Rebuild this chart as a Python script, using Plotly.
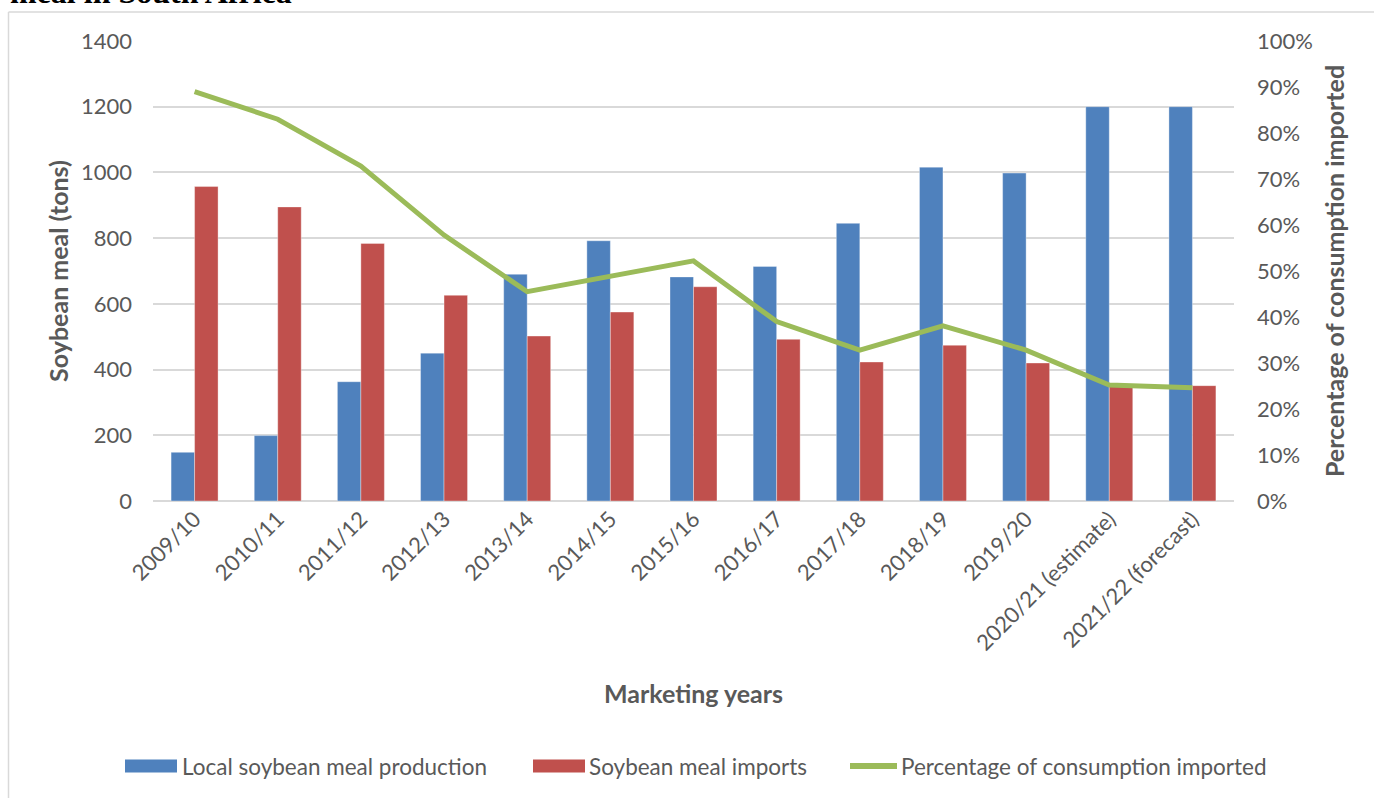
import plotly.graph_objects as go

# Marketing years and soybean meal volumes
marketing_years = [
    "2009/10", "2010/11", "2011/12", "2012/13", "2013/14", "2014/15",
    "2015/16", "2016/17", "2017/18", "2018/19", "2019/20",
    "2020/21 (estimate)", "2021/22 (forecast)",
]
local_production = [148, 199, 363, 450, 690, 792, 682, 714, 845, 1016, 998, 1200, 1200]
meal_imports = [957, 895, 784, 626, 502, 575, 652, 492, 423, 474, 420, 350, 351]
share_imported = [0.890, 0.830, 0.728, 0.578, 0.455, 0.488, 0.522, 0.390, 0.328,
                  0.381, 0.328, 0.252, 0.246]

left_ticks = [0, 200, 400, 600, 800, 1000, 1200, 1400]
right_ticks = [i / 10 for i in range(11)]

BLUE = "#4F81BD"
RED = "#C0504D"
GREEN = "#9BBB59"
GREY_TEXT = "#595959"
GRID = "#D9D9D9"
FONT = "Lato"

W, H = 1374, 798
PL, PR, PT, PB = 153, 1234, 41, 501  # plot area in pixels


def px_x(px):
    return (px - PL) / (PR - PL)


def px_y(py):
    return (PB - py) / (PB - PT)


fig = go.Figure()
fig.add_trace(go.Bar(
    x=marketing_years, y=local_production, name="Local soybean meal production",
    marker=dict(color=BLUE, line=dict(color="rgba(255,255,255,0.35)", width=1)),
    showlegend=False,
))
fig.add_trace(go.Bar(
    x=marketing_years, y=meal_imports, name="Soybean meal imports",
    marker=dict(color=RED, line=dict(color="rgba(255,255,255,0.35)", width=1)),
    showlegend=False,
))
fig.add_trace(go.Scatter(
    x=marketing_years, y=share_imported, name="Percentage of consumption imported",
    mode="lines", line=dict(color=GREEN, width=5), yaxis="y2",
    showlegend=False,
))

# legend row drawn underneath the chart
legend_items = [
    ("rect", BLUE, 125, 177, 180, "Local soybean meal production"),
    ("rect", RED, 533, 585, 587, "Soybean meal imports"),
    ("line", GREEN, 850, 897, 899, "Percentage of consumption imported"),
]
shapes = []
annotations = []
LEG_Y = 766
for kind, color, x0, x1, tx, label in legend_items:
    if kind == "rect":
        shapes.append(dict(type="rect", xref="paper", yref="paper",
                           x0=px_x(x0), x1=px_x(x1), y0=px_y(LEG_Y + 6.5), y1=px_y(LEG_Y - 6.5),
                           fillcolor=color, line=dict(width=0)))
    else:
        shapes.append(dict(type="line", xref="paper", yref="paper",
                           x0=px_x(x0), x1=px_x(x1), y0=px_y(LEG_Y), y1=px_y(LEG_Y),
                           line=dict(color=color, width=6)))
    annotations.append(dict(text=label, xref="paper", yref="paper",
                            x=px_x(tx), y=px_y(LEG_Y), xanchor="left", yanchor="middle",
                            showarrow=False, font=dict(family=FONT, size=22.5, color=GREY_TEXT)))

# outer frame edges (left and top)
shapes.append(dict(type="line", xref="paper", yref="paper",
                   x0=px_x(8.5), x1=px_x(8.5), y0=px_y(12), y1=px_y(820),
                   line=dict(color=GRID, width=1.5)))
shapes.append(dict(type="line", xref="paper", yref="paper",
                   x0=px_x(8.5), x1=px_x(1400), y0=px_y(12), y1=px_y(12),
                   line=dict(color=GRID, width=1.5)))

# heading running in from above
annotations.append(dict(text="<b>meal in South Africa</b>", xref="paper", yref="paper",
                        x=px_x(8), y=px_y(12), xanchor="left", yanchor="bottom",
                        showarrow=False,
                        font=dict(family="Liberation Serif", size=32, color="black")))

fig.update_layout(
    width=W, height=H,
    margin=dict(l=PL, r=W - PR, t=PT, b=H - PB, autoexpand=False),
    paper_bgcolor="white", plot_bgcolor="white",
    barmode="group", bargap=0.435, bargroupgap=0,
    font=dict(family=FONT, size=22, color=GREY_TEXT),
    xaxis=dict(
        type="category", tickangle=-45, showgrid=False, showline=False, ticks="",
        tickfont=dict(family=FONT, size=22, color=GREY_TEXT),
        title=dict(text="Marketing years", standoff=30,
                   font=dict(family=FONT, size=25, color=GREY_TEXT, weight="bold")),
        automargin=False,
    ),
    yaxis=dict(
        range=[0, 1400], tickvals=left_ticks, showgrid=True, gridcolor=GRID, gridwidth=1.5,
        zeroline=True, zerolinecolor=GRID, zerolinewidth=1.5, showline=False, ticks="",
        ticklabelstandoff=20,
        tickfont=dict(family=FONT, size=22, color=GREY_TEXT),
        title=dict(text="Soybean meal (tons)", standoff=5,
                   font=dict(family=FONT, size=25, color=GREY_TEXT, weight="bold")),
        automargin=False,
    ),
    yaxis2=dict(
        overlaying="y", side="right", range=[0, 1], tickvals=right_ticks, tickformat=".0%",
        showgrid=False, zeroline=False, showline=False, ticks="",
        ticklabelstandoff=22,
        tickfont=dict(family=FONT, size=22, color=GREY_TEXT),
        title=dict(text="Percentage of consumption imported", standoff=14,
                   font=dict(family=FONT, size=25, color=GREY_TEXT, weight="bold")),
        automargin=False,
    ),
    shapes=shapes,
    annotations=annotations,
)

fig.write_html("out.html")
